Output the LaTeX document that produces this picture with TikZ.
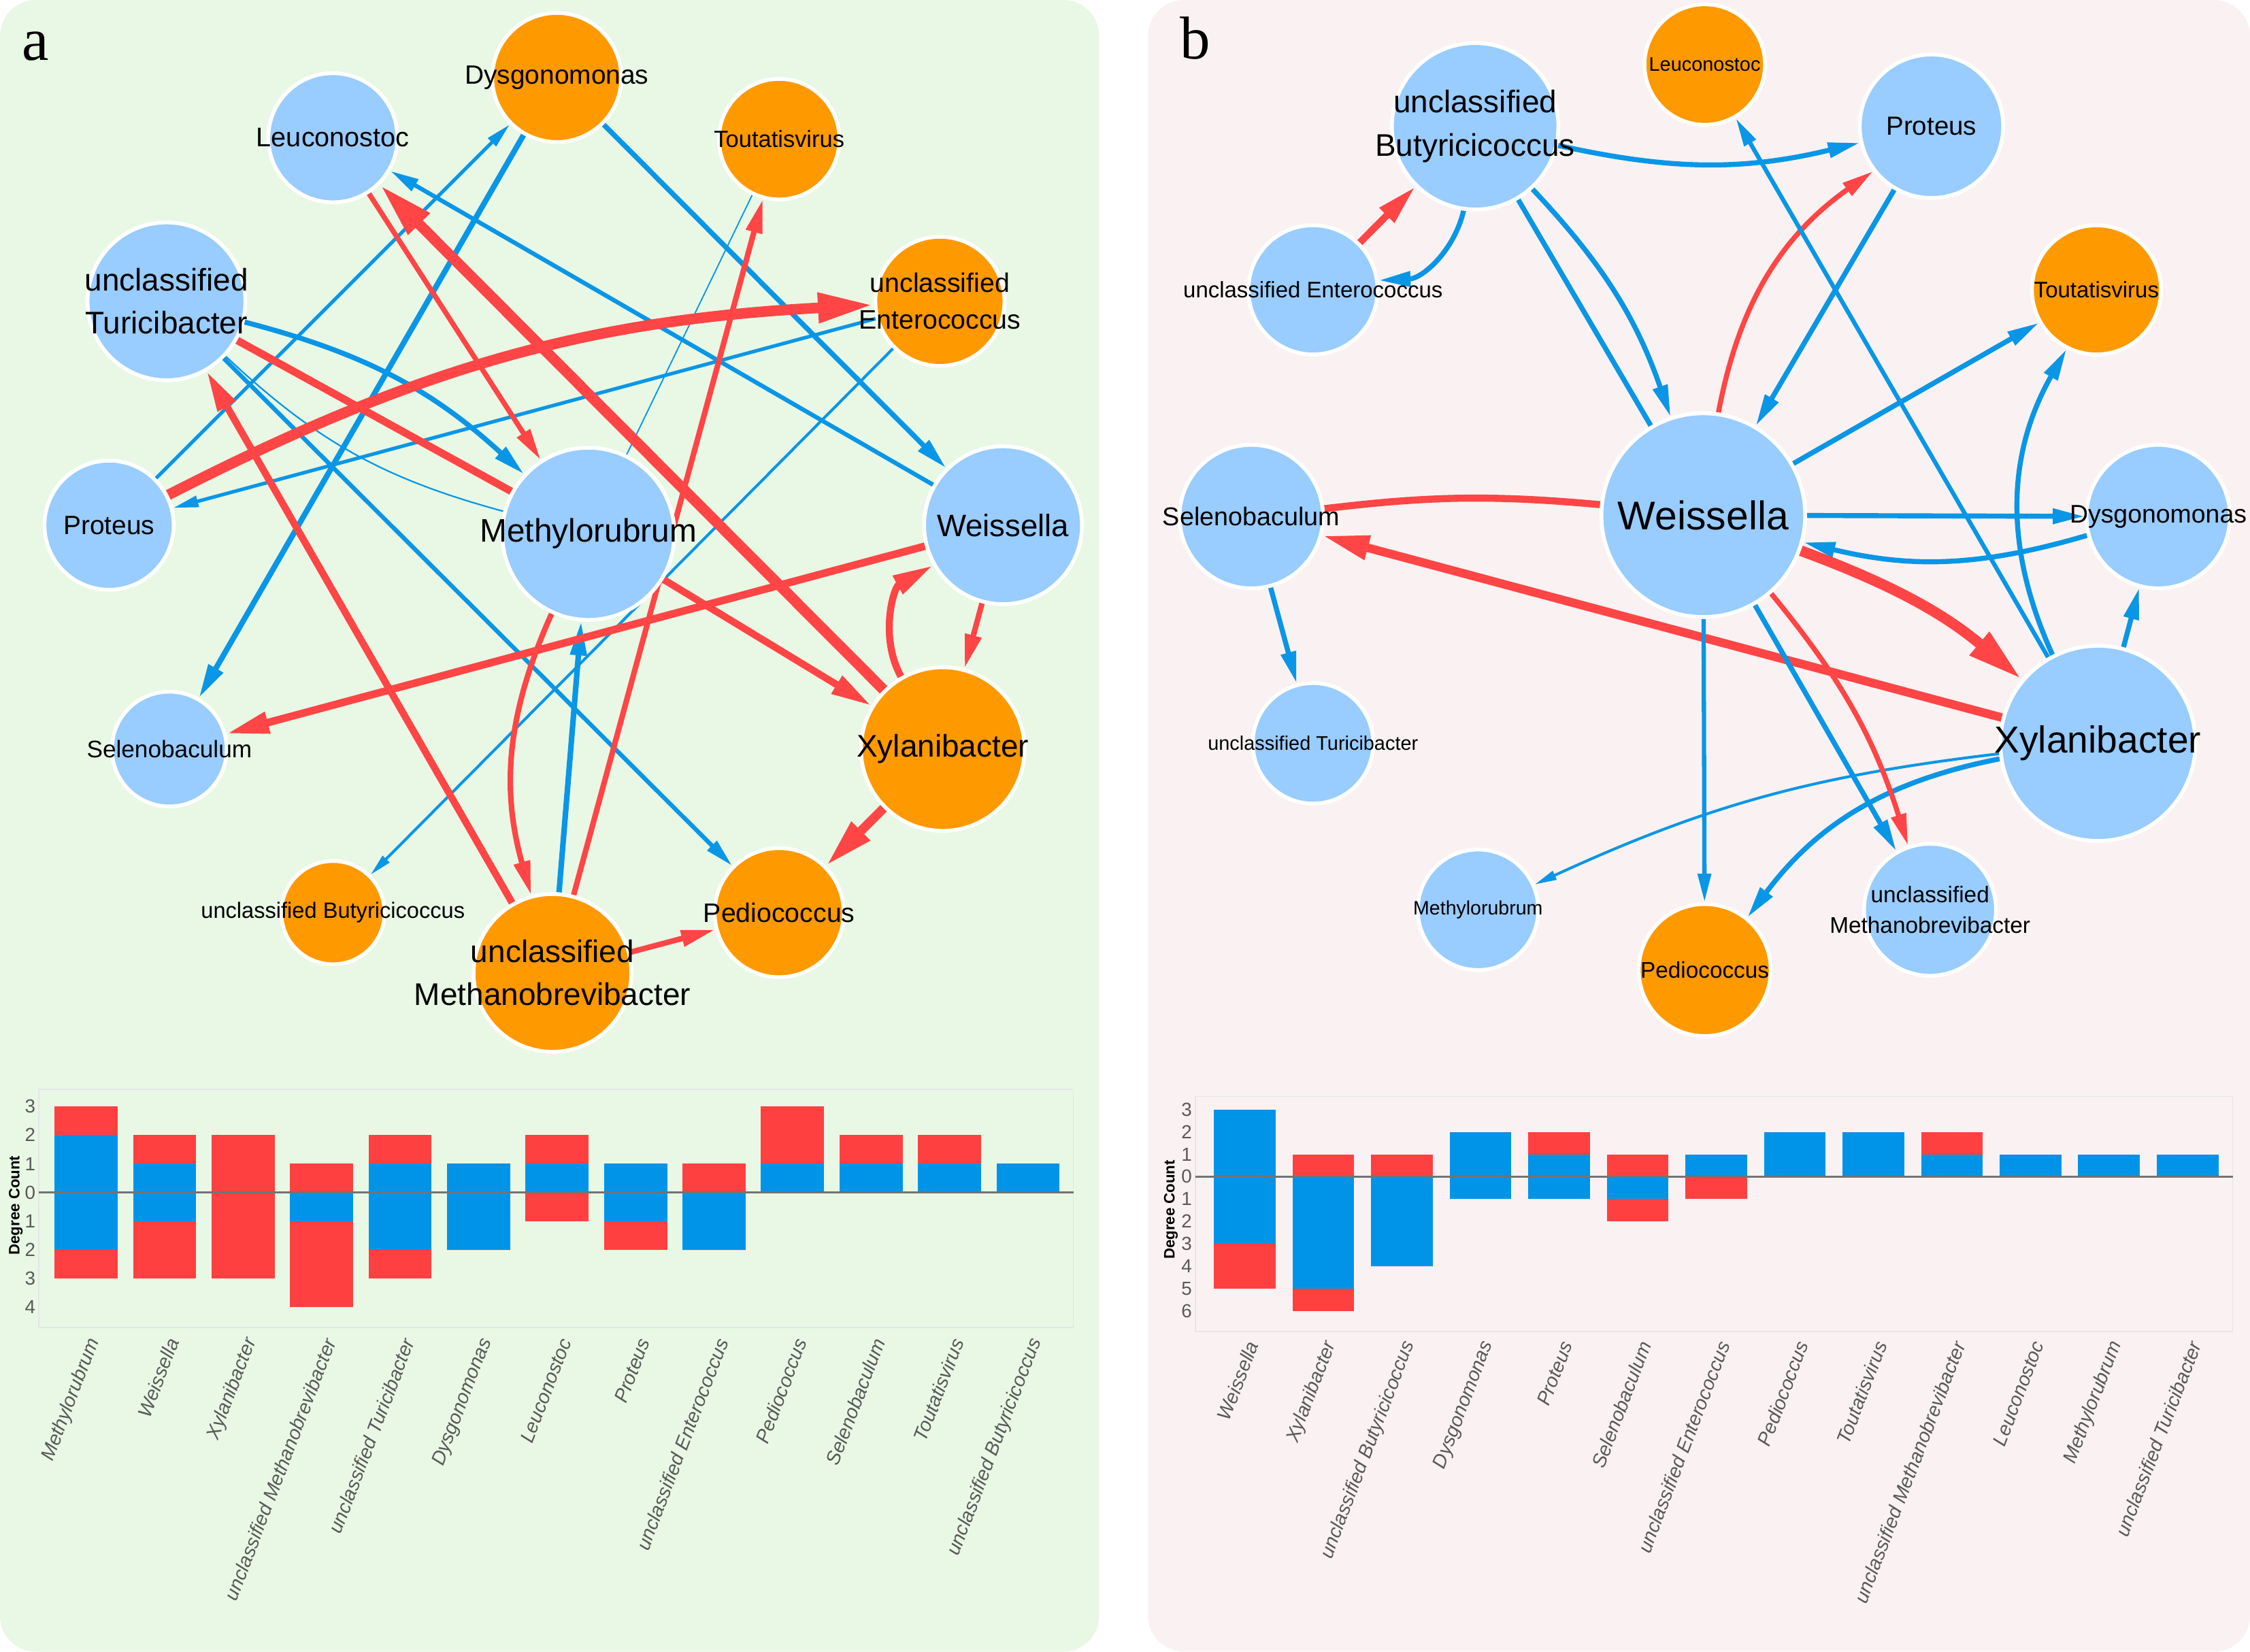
\documentclass[tikz,border=0pt]{standalone}
\usepackage{fontspec}
\setmainfont{Liberation Sans}
\newfontfamily\letterfont{Liberation Serif}
\usetikzlibrary{arrows.meta}

\definecolor{nodeblue}{HTML}{99CCFF}
\definecolor{nodeorange}{HTML}{FF9900}
\definecolor{edgeblue}{HTML}{0A96E6}
\definecolor{edgered}{HTML}{FF4545}
\definecolor{bgA}{HTML}{E8F8E5}
\definecolor{bgB}{HTML}{FAF2F2}
\definecolor{barblue}{HTML}{0094E8}
\definecolor{barred}{HTML}{FF4040}

\pgfdeclarelayer{back}
\pgfdeclarelayer{edges}
\pgfsetlayers{back,edges,main}

\tikzset{
  bnode/.style={circle, fill=nodeblue, draw=white, line width=1.5pt, inner sep=0pt, minimum size=#1},
  onode/.style={circle, fill=nodeorange, draw=white, line width=1.5pt, inner sep=0pt, minimum size=#1},
  fs/.style={font=\fontsize{#1pt}{\dimexpr#1pt*11/8\relax}\selectfont, align=center, inner sep=0pt},
  blueE/.style={draw=edgeblue},
  redE/.style={draw=edgered},
  lw/.style={line width=#1pt},
  arr/.style={-{Triangle[length=4pt 4.3, width=1pt 2.4]}},
  xlab/.style={font=\fontsize{7.7pt}{9pt}\selectfont\itshape, text=black!65, rotate=69, anchor=east, inner sep=0pt},
  ticklab/.style={font=\fontsize{7.5pt}{9pt}\selectfont, text=black!65, anchor=east, inner sep=0pt},
  ylab/.style={font=\fontsize{6pt}{7pt}\selectfont\bfseries, rotate=90, inner sep=0pt},
  letter/.style={font=\letterfont\fontsize{24pt}{26pt}\selectfont, anchor=base west, inner sep=0pt}
}

\begin{document}
\begin{tikzpicture}[x=0.02cm, y=-0.02cm]
\useasboundingbox (0,0) rectangle (1568,1151);

\begin{pgfonlayer}{back}
\fill[white] (0,0) rectangle (1568,1151);
\fill[bgA, rounded corners=0.5cm] (0,0) rectangle (766,1151);
\fill[bgB, rounded corners=0.5cm] (800,0) rectangle (1568,1151);
\end{pgfonlayer}

\node[letter] (la) at (15,42) {a};
\node[letter] (lb) at (822,41) {b};

% network a
\node[onode=1.8cm, label={[fs=10.5]center:Dysgonomonas}] (aDys) at (388,54) {};
\node[bnode=1.8cm, label={[fs=10.7]center:Leuconostoc}] (aLeu) at (232,96) {};
\node[onode=1.68cm, label={[fs=9.3]center:Toutatisvirus}] (aTou) at (543,97) {};
\node[bnode=2.2cm, label={[fs=12.4]center:unclassified\\Turicibacter}] (aTur) at (116,210) {};
\node[onode=1.8cm, label={[fs=10.6]center:unclassified\\Enterococcus}] (aEnt) at (655,210) {};
\node[bnode=1.8cm, label={[fs=10.5]center:Proteus}] (aPro) at (76,366) {};
\node[bnode=2.4cm, label={[fs=12.9]center:Methylorubrum}] (aMet) at (410,372) {};
\node[bnode=2.2cm, label={[fs=12.3]center:Weissella}] (aWei) at (699,366) {};
\node[bnode=1.6cm, label={[fs=9.5]center:Selenobaculum}] (aSel) at (118,522) {};
\node[onode=2.28cm, label={[fs=12.4]center:Xylanibacter}] (aXyl) at (657,522) {};
\node[onode=1.44cm, label={[fs=8.8]center:unclassified Butyricicoccus}] (aBut) at (232,636) {};
\node[onode=1.8cm, label={[fs=10.6]center:Pediococcus}] (aPed) at (543,636) {};
\node[onode=2.2cm, label={[fs=12.4]center:unclassified\\Methanobrevibacter}] (aMeb) at (385,678) {};

\begin{pgfonlayer}{edges}
\draw[blueE, lw=1.4, arr] (aPro) -- (aDys);
\draw[blueE, lw=2.2, arr] (aDys) -- (aSel);
\draw[blueE, lw=2, arr] (aDys) -- (aWei);
\draw[blueE, lw=1.7, arr] (aWei) -- (aLeu);
\draw[blueE, lw=2, arr] (aTur) to[bend left=14] (aMet);
\draw[blueE, lw=0.6] (aTur) to[bend right=14] (aMet);
\draw[blueE, lw=1.7, arr] (aTur) -- (aPed);
\draw[blueE, lw=1.4, arr] (aEnt) -- (aPro);
\draw[blueE, lw=1.1, arr] (aEnt) -- (aBut);
\draw[blueE, lw=0.5] (aMet) -- (aTou);
\draw[blueE, lw=2.2, arr] (aMeb) -- (aMet);
\draw[redE, lw=4.2, arr] (aPro) to[bend left=12] (aEnt);
\draw[redE, lw=2, arr] (aLeu) -- (aMet);
\draw[redE, lw=4.2, arr] (aXyl) -- (aLeu);
\draw[redE, lw=3] (aTur) -- (aMet);
\draw[redE, lw=2.8, arr] (aMeb) -- (aTur);
\draw[redE, lw=2.8, arr] (aMet) -- (aXyl);
\draw[redE, lw=2.2, arr] (aMet) to[bend right=20] (aMeb);
\draw[redE, lw=2.2, arr] (aMeb) -- (aTou);
\draw[redE, lw=3, arr] (aWei) -- (aSel);
\draw[redE, lw=2.8, arr] (aXyl) to[bend left=45] (aWei);
\draw[redE, lw=2.2, arr] (aWei) -- (aXyl);
\draw[redE, lw=3.6, arr] (aXyl) -- (aPed);
\draw[redE, lw=2.2, arr] (aMeb) -- (aPed);
\end{pgfonlayer}

% network b
\node[bnode=2.32cm, label={[fs=12.4]center:unclassified\\Butyricicoccus}] (bBut) at (1028,88) {};
\node[onode=1.68cm, label={[fs=7.8]center:Leuconostoc}] (bLeu) at (1188,45) {};
\node[bnode=2cm, label={[fs=10.4]center:Proteus}] (bPro) at (1346,88) {};
\node[bnode=1.8cm, label={[fs=8.9]center:unclassified Enterococcus}] (bEnt) at (915,202) {};
\node[onode=1.8cm, label={[fs=8.9]center:Toutatisvirus}] (bTou) at (1461,202) {};
\node[bnode=2cm, label={[fs=10.2]center:Selenobaculum}] (bSel) at (872,360) {};
\node[bnode=2.84cm, label={[fs=15.9]center:Weissella}] (bWei) at (1187,359) {};
\node[bnode=2cm, label={[fs=10.1]center:Dysgonomonas}] (bDys) at (1504,360) {};
\node[bnode=1.68cm, label={[fs=7.8]center:unclassified Turicibacter}] (bTur) at (915,518) {};
\node[bnode=2.72cm, label={[fs=14.9]center:Xylanibacter}] (bXyl) at (1462,518) {};
\node[bnode=1.68cm, label={[fs=7.7]center:Methylorubrum}] (bMet) at (1030,634) {};
\node[onode=1.84cm, label={[fs=9]center:Pediococcus}] (bPed) at (1188,676) {};
\node[bnode=1.84cm, label={[fs=9]center:unclassified\\Methanobrevibacter}] (bMeb) at (1345,634) {};

\begin{pgfonlayer}{edges}
\draw[blueE, lw=2, arr] (bBut) to[bend right=13] (bPro);
\draw[redE, lw=2.8, arr] (bEnt) -- (bBut);
\draw[blueE, lw=2, arr] (bBut) to[bend left=37] (bEnt);
\draw[blueE, lw=2, arr] (bBut) to[bend left=12] (bWei);
\draw[blueE, lw=2] (bBut) -- (bWei);
\draw[blueE, lw=2, arr] (bPro) -- (bWei);
\draw[redE, lw=2, arr] (bWei) to[bend left=22] (bPro);
\draw[blueE, lw=1.7, arr] (bXyl) -- (bLeu);
\draw[blueE, lw=2, arr] (bWei) -- (bTou);
\draw[blueE, lw=2, arr] (bXyl) to[bend left=27] (bTou);
\draw[blueE, lw=2, arr] (bWei) -- (bDys);
\draw[blueE, lw=2, arr] (bDys) to[bend left=15] (bWei);
\draw[blueE, lw=2, arr] (bXyl) -- (bDys);
\draw[redE, lw=4.2, arr] (bWei) to[bend left=10] (bXyl);
\draw[redE, lw=3.4, arr] (bXyl) -- (bSel);
\draw[redE, lw=2.8] (bWei) to[bend right=6] (bSel);
\draw[blueE, lw=2, arr] (bSel) -- (bTur);
\draw[blueE, lw=1.1, arr] (bXyl) to[bend right=9] (bMet);
\draw[blueE, lw=2, arr] (bXyl) to[bend right=21] (bPed);
\draw[blueE, lw=1.7, arr] (bWei) -- (bPed);
\draw[blueE, lw=2, arr] (bWei) -- (bMeb);
\draw[redE, lw=2, arr] (bWei) to[bend left=11] (bMeb);
\end{pgfonlayer}

% degree bars a
\draw[black!10] (27,759) rectangle (748,925);
\foreach \ub/\ur/\db/\dr/\lab [count=\i from 0] in {2/1/2/1/Methylorubrum, 1/1/1/2/Weissella, 0/2/0/3/Xylanibacter, 0/1/1/3/unclassified Methanobrevibacter, 1/1/2/1/unclassified Turicibacter, 1/0/2/0/Dysgonomonas, 1/1/0/1/Leuconostoc, 1/0/1/1/Proteus, 0/1/2/0/unclassified Enterococcus, 1/2/0/0/Pediococcus, 1/1/0/0/Selenobaculum, 1/1/0/0/Toutatisvirus, 1/0/0/0/unclassified Butyricicoccus}{
  \pgfmathsetmacro\xl{38+54.7*\i}
  \fill[barblue] (\xl,831) rectangle ++(44,-20*\ub);
  \fill[barred] (\xl,831-20*\ub) rectangle ++(44,-20*\ur);
  \fill[barblue] (\xl,831) rectangle ++(44,20*\db);
  \fill[barred] (\xl,831+20*\db) rectangle ++(44,20*\dr);
  \node[xlab] (aL\i) at (\xl+28,933) {\lab};
}
\draw[black!55, line width=0.9pt] (27,831) -- (748,831);
\foreach \v [count=\k from -3] in {3,2,1,0,1,2,3,4}
  \node[ticklab] (aT\v\k) at (25,831+20*\k) {\v};
\node[ylab] (aY) at (11,840) {Degree Count};

% degree bars b
\draw[black!10] (833,764) rectangle (1556,928);
\foreach \ub/\ur/\db/\dr/\lab [count=\i from 0] in {3/0/3/2/Weissella, 0/1/5/1/Xylanibacter, 0/1/4/0/unclassified Butyricicoccus, 2/0/1/0/Dysgonomonas, 1/1/1/0/Proteus, 0/1/1/1/Selenobaculum, 1/0/0/1/unclassified Enterococcus, 2/0/0/0/Pediococcus, 2/0/0/0/Toutatisvirus, 1/1/0/0/unclassified Methanobrevibacter, 1/0/0/0/Leuconostoc, 1/0/0/0/Methylorubrum, 1/0/0/0/unclassified Turicibacter}{
  \pgfmathsetmacro\xl{846+54.75*\i}
  \fill[barblue] (\xl,820) rectangle ++(43,-15.6*\ub);
  \fill[barred] (\xl,820-15.6*\ub) rectangle ++(43,-15.6*\ur);
  \fill[barblue] (\xl,820) rectangle ++(43,15.6*\db);
  \fill[barred] (\xl,820+15.6*\db) rectangle ++(43,15.6*\dr);
  \node[xlab] (bL\i) at (\xl+27,935) {\lab};
}
\draw[black!55, line width=0.9pt] (833,820) -- (1556,820);
\foreach \v [count=\k from -3] in {3,2,1,0,1,2,3,4,5,6}
  \node[ticklab] (bT\v\k) at (831,820+15.6*\k) {\v};
\node[ylab] (bY) at (816,843) {Degree Count};
\end{tikzpicture}
\end{document}
